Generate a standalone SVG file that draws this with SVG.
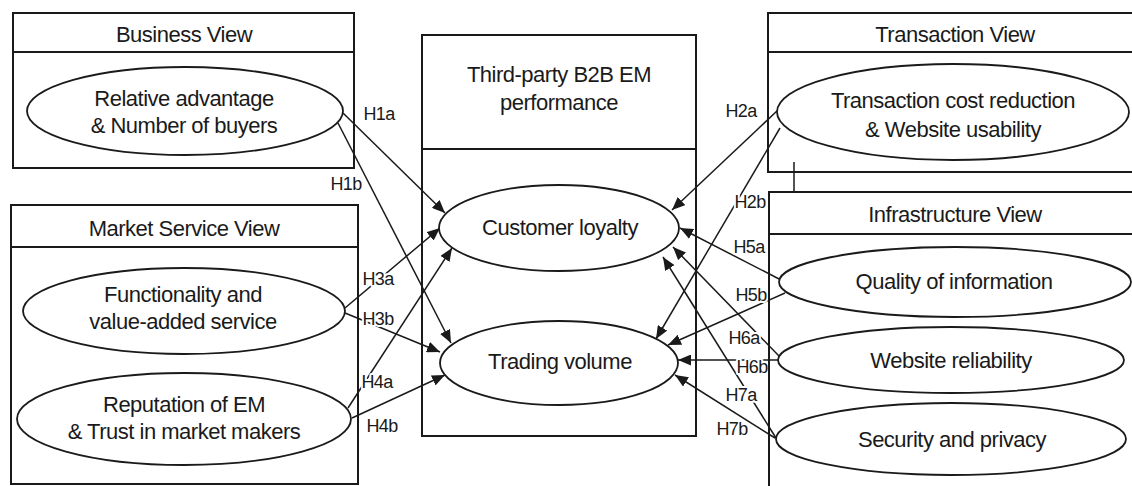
<svg xmlns="http://www.w3.org/2000/svg" width="1132" height="486" viewBox="0 0 1132 486">
  <style>
    .box { fill: none; stroke: #1a1a1a; stroke-width: 2; }
    .ell { fill: #ffffff; stroke: #1a1a1a; stroke-width: 1.8; }
    .t { font-family: "Liberation Sans", Arial, sans-serif; font-size: 22px; letter-spacing: -0.5px; fill: #1a1a1a; text-anchor: middle; }
    .lbl { font-family: "Liberation Sans", Arial, sans-serif; font-size: 18px; letter-spacing: -0.6px; fill: #1a1a1a; text-anchor: middle; stroke: #ffffff; stroke-width: 4; paint-order: stroke; stroke-linejoin: round; }
    .arr { fill: none; stroke: #1a1a1a; stroke-width: 1.5; marker-end: url(#ah); }
    .ln { fill: none; stroke: #1a1a1a; stroke-width: 1.5; }
  </style>
  <defs>
    <marker id="ah" markerUnits="userSpaceOnUse" markerWidth="13" markerHeight="11" refX="13" refY="5.5" orient="auto">
      <path d="M0,0 L13,5.5 L0,11 z" fill="#1a1a1a"/>
    </marker>
  </defs>
  <rect width="1132" height="486" fill="#ffffff"/>

  <g id="connectors">
    <line class="arr" x1="343" y1="113" x2="445" y2="213"/>
    <line class="arr" x1="338" y1="123" x2="451" y2="343"/>
    <line class="arr" x1="345" y1="308" x2="440" y2="228"/>
    <line class="arr" x1="345" y1="313" x2="440" y2="352"/>
    <line class="arr" x1="348" y1="408" x2="452" y2="248"/>
    <line class="arr" x1="352" y1="418" x2="445" y2="375"/>
    <line class="arr" x1="778" y1="110" x2="672" y2="210"/>
    <line class="arr" x1="780" y1="128" x2="656" y2="339"/>
    <line class="arr" x1="781" y1="280" x2="680" y2="228"/>
    <line class="arr" x1="785" y1="293" x2="668" y2="345"/>
    <line class="arr" x1="779" y1="356" x2="673" y2="247"/>
    <line class="arr" x1="778" y1="360" x2="678" y2="360"/>
    <line class="arr" x1="776" y1="438" x2="663" y2="257"/>
    <line class="arr" x1="775" y1="438" x2="675" y2="375"/>
    <line class="ln" x1="794" y1="162" x2="794" y2="191"/>
    <text class="lbl" x="379" y="120">H1a</text>
    <text class="lbl" x="346" y="190">H1b</text>
    <text class="lbl" x="378" y="285">H3a</text>
    <text class="lbl" x="378" y="325">H3b</text>
    <text class="lbl" x="377" y="388">H4a</text>
    <text class="lbl" x="382" y="432">H4b</text>
    <text class="lbl" x="741" y="117">H2a</text>
    <text class="lbl" x="750" y="208">H2b</text>
    <text class="lbl" x="749" y="253">H5a</text>
    <text class="lbl" x="751" y="301">H5b</text>
    <text class="lbl" x="744" y="344">H6a</text>
    <text class="lbl" x="752" y="373">H6b</text>
    <text class="lbl" x="741" y="401">H7a</text>
    <text class="lbl" x="732" y="435">H7b</text>
  </g>

  <g id="business-view">
    <rect class="box" x="13" y="13" width="341" height="155"/>
    <line class="box" x1="13" y1="52" x2="354" y2="52"/>
    <text class="t" x="184" y="42">Business View</text>
    <ellipse class="ell" cx="185" cy="111" rx="158" ry="44"/>
    <text class="t" x="184" y="106">Relative advantage</text>
    <text class="t" x="184" y="133">&amp; Number of buyers</text>
  </g>

  <g id="market-service-view">
    <rect class="box" x="11" y="205" width="347" height="279"/>
    <line class="box" x1="11" y1="247" x2="358" y2="247"/>
    <text class="t" x="184" y="236">Market Service View</text>
    <ellipse class="ell" cx="184" cy="311" rx="161" ry="43"/>
    <text class="t" x="183" y="302">Functionality and</text>
    <text class="t" x="183" y="329">value-added service</text>
    <ellipse class="ell" cx="184" cy="419" rx="167" ry="46"/>
    <text class="t" x="184" y="412">Reputation of EM</text>
    <text class="t" x="184" y="439">&amp; Trust in market makers</text>
  </g>

  <g id="em-performance">
    <rect class="box" x="422" y="35" width="274" height="401"/>
    <line class="box" x1="422" y1="149" x2="696" y2="149"/>
    <text class="t" x="559" y="82">Third-party B2B EM</text>
    <text class="t" x="559" y="110">performance</text>
    <ellipse class="ell" cx="559" cy="228" rx="120" ry="43"/>
    <text class="t" x="560" y="235">Customer loyalty</text>
    <ellipse class="ell" cx="559" cy="363" rx="119" ry="42"/>
    <text class="t" x="560" y="369">Trading volume</text>
  </g>

  <g id="transaction-view">
    <rect class="box" x="768" y="13" width="380" height="159"/>
    <line class="box" x1="768" y1="52" x2="1140" y2="52"/>
    <text class="t" x="955" y="42">Transaction View</text>
    <ellipse class="ell" cx="953" cy="112" rx="176" ry="48"/>
    <text class="t" x="953" y="108">Transaction cost reduction</text>
    <text class="t" x="953" y="137">&amp; Website usability</text>
  </g>

  <g id="infrastructure-view">
    <rect class="box" x="769" y="192" width="380" height="310"/>
    <line class="box" x1="769" y1="234" x2="1140" y2="234"/>
    <text class="t" x="955" y="222">Infrastructure View</text>
    <ellipse class="ell" cx="955" cy="282" rx="176" ry="35"/>
    <text class="t" x="954" y="289">Quality of information</text>
    <ellipse class="ell" cx="951" cy="360" rx="173" ry="33"/>
    <text class="t" x="951" y="368">Website reliability</text>
    <ellipse class="ell" cx="951" cy="439" rx="175" ry="36"/>
    <text class="t" x="952" y="447">Security and privacy</text>
  </g>
</svg>
